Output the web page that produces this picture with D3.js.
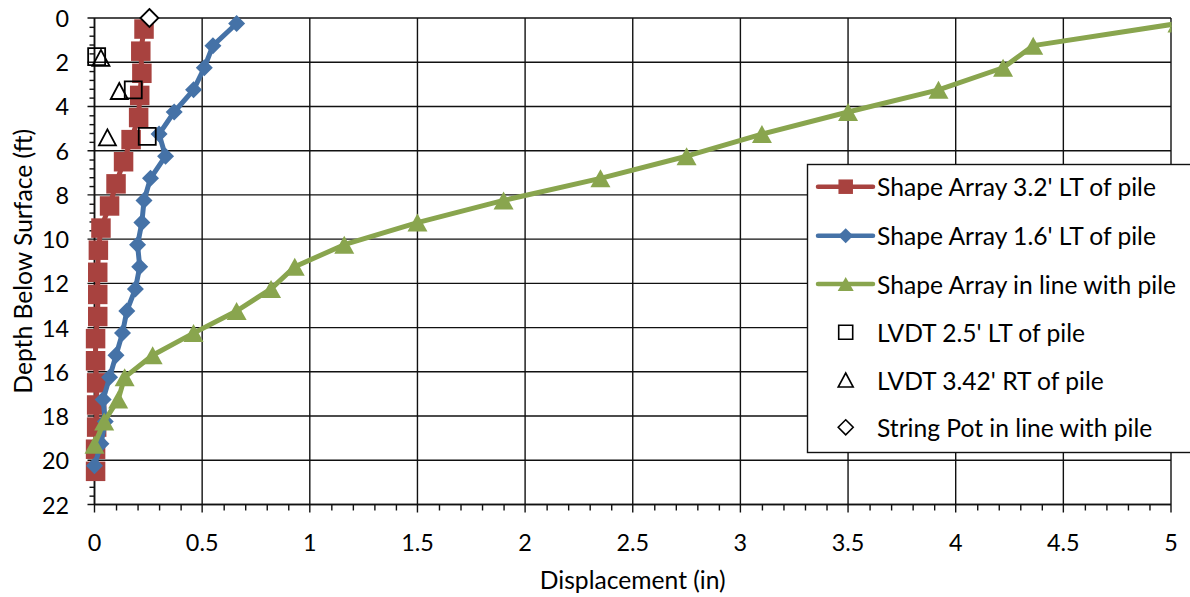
<!DOCTYPE html>
<html><head><meta charset="utf-8">
<script src="https://cdn.jsdelivr.net/npm/d3@7"></script>
<style>body{margin:0;background:#fff;} svg{display:block}</style>
</head><body>
<svg id="chart" width="1190" height="597"></svg>
<script>
// ---------- data ----------
const seriesNames = ["Shape Array 3.2' LT of pile", "Shape Array 1.6' LT of pile", "Shape Array in line with pile",
  "LVDT 2.5' LT of pile", "LVDT 3.42' RT of pile", "String Pot in line with pile"];

const redDepth = [0.5,1.5,2.5,3.5,4.5,5.5,6.5,7.5,8.5,9.5,10.5,11.5,12.5,13.5,14.5,15.5,16.5,17.5,18.5,19.5,20.5];
const redDisp  = [0.23,0.215,0.22,0.21,0.205,0.17,0.135,0.10,0.07,0.03,0.018,0.015,0.015,0.015,0.005,0.005,0.01,0.01,0.01,0.005,0.005];

const blueDepth = [0.25,1.25,2.25,3.25,4.25,5.25,6.25,7.25,8.25,9.25,10.25,11.25,12.25,13.25,14.25,15.25,16.25,17.25,18.25,19.25,20.25];
const blueDisp  = [0.66,0.55,0.51,0.46,0.37,0.30,0.33,0.26,0.23,0.22,0.20,0.21,0.19,0.15,0.13,0.10,0.07,0.04,0.05,0.03,0.00];

const greenDepth = [0.25,1.25,2.25,3.25,4.25,5.25,6.25,7.25,8.25,9.25,10.25,11.25,12.25,13.25,14.25,15.25,16.25,17.25,18.25,19.3];
const greenDisp  = [5.03,4.36,4.22,3.92,3.50,3.10,2.75,2.35,1.90,1.50,1.16,0.93,0.82,0.66,0.46,0.27,0.14,0.11,0.045,0.00];

const lvdtLDepth = [1.75,3.25,5.35];
const lvdtLDisp  = [0.01,0.18,0.245];
const lvdtRDepth = [1.8,3.3,5.4];
const lvdtRDisp  = [0.03,0.115,0.06];
const potDepth = [0];
const potDisp  = [0.255];

const xTickValues = [0,0.5,1,1.5,2,2.5,3,3.5,4,4.5,5];
const xTickLabels = ["0","0.5","1","1.5","2","2.5","3","3.5","4","4.5","5"];
const yTickValues = [0,2,4,6,8,10,12,14,16,18,20,22];
const yTickLabels = ["0","2","4","6","8","10","12","14","16","18","20","22"];
const xTitle = "Displacement (in)";
const yTitle = "Depth Below Surface (ft)";

// ---------- setup ----------
const svg = d3.select("#chart");
const FONT = "Lato, 'Open Sans', sans-serif";
const L = 94.5, R = 1171, T = 18, B = 504.5;
const x = d3.scaleLinear().domain([0,5]).range([L,R]);
const y = d3.scaleLinear().domain([0,22]).range([T,B]);

function fitSize(text, target){
  const t = svg.append("text").attr("font-family",FONT).attr("font-size",100).text(text);
  const w = t.node().getComputedTextLength(); t.remove();
  return 100*target/w;
}
const legendFs = fitSize(seriesNames[0], 279);
const titleFs = fitSize(xTitle, 186);
const tickFs = legendFs*0.95;

const colors = {red:"#A8423F", blue:"#4572A7", green:"#89A54E"};

// marker shapes (centered on bounding box)
const squarePath = s => `M${-s/2},${-s/2}H${s/2}V${s/2}H${-s/2}Z`;
const diamondPath = s => `M0,${-s/2}L${s/2},0L0,${s/2}L${-s/2},0Z`;
const trianglePath = (w,h) => `M0,${-h/2}L${w/2},${h/2}L${-w/2},${h/2}Z`;

// gridlines
const grid = svg.append("g").attr("stroke","#111").attr("stroke-width",1.4);
grid.selectAll("line.h").data(yTickValues).join("line").attr("class","h")
  .attr("x1",L-7).attr("x2",R).attr("y1",d=>y(d)).attr("y2",d=>y(d));
grid.selectAll("line.v").data(xTickValues).join("line").attr("class","v")
  .attr("x1",d=>x(d)).attr("x2",d=>x(d)).attr("y1",T).attr("y2",B+8);

// axes with minor ticks
const yMinor = d3.range(0,22.001,0.4).filter(v=>Math.abs(v/2-Math.round(v/2))>1e-6);
svg.append("g").attr("transform",`translate(${L},0)`)
  .call(d3.axisLeft(y).tickValues(yMinor).tickSize(5).tickFormat(""))
  .call(g=>g.select(".domain").remove())
  .call(g=>g.selectAll("line").attr("stroke","#111").attr("stroke-width",1.4));
const xMinor = d3.range(0,5.0001,0.1).filter(v=>Math.abs(v*2-Math.round(v*2))>1e-6);
svg.append("g").attr("transform",`translate(0,${B})`)
  .call(d3.axisBottom(x).tickValues(xMinor).tickSize(6).tickFormat(""))
  .call(g=>g.select(".domain").remove())
  .call(g=>g.selectAll("line").attr("stroke","#111").attr("stroke-width",1.4));

// axis lines
svg.append("line").attr("x1",L).attr("x2",L).attr("y1",T).attr("y2",B).attr("stroke","#111").attr("stroke-width",1.6);
svg.append("line").attr("x1",L).attr("x2",R).attr("y1",B).attr("y2",B).attr("stroke","#111").attr("stroke-width",1.6);

// tick labels
svg.append("g").selectAll("text").data(yTickValues).join("text")
  .attr("x",69).attr("y",d=>y(d)).attr("text-anchor","end").attr("dominant-baseline","central")
  .attr("font-family",FONT).attr("font-size",tickFs).attr("fill","#000")
  .text((d,i)=>yTickLabels[i]);
svg.append("g").selectAll("text").data(xTickValues).join("text")
  .attr("x",d=>x(d)).attr("y",542).attr("text-anchor","middle").attr("dominant-baseline","central")
  .attr("font-family",FONT).attr("font-size",tickFs).attr("fill","#000")
  .text((d,i)=>xTickLabels[i]);

// titles
svg.append("text").attr("x",(L+R)/2).attr("y",579).attr("text-anchor","middle").attr("dominant-baseline","central")
  .attr("font-family",FONT).attr("font-size",titleFs).text(xTitle);
svg.append("text").attr("transform",`translate(22,${(T+B)/2}) rotate(-90)`).attr("text-anchor","middle")
  .attr("dominant-baseline","central").attr("font-family",FONT).attr("font-size",titleFs).text(yTitle);

// clip on right side
svg.append("defs").append("clipPath").attr("id","clipR").append("rect")
  .attr("x",0).attr("y",0).attr("width",R+0.5).attr("height",597);
const plot = svg.append("g").attr("clip-path","url(#clipR)");

const line = d3.line().x(d=>x(d[1])).y(d=>y(d[0]));

function addSeries(depths, disps, color, shape, lw){
  const data = depths.map((d,i)=>[d,disps[i]]);
  plot.append("path").datum(data).attr("d",line).attr("fill","none").attr("stroke",color)
    .attr("stroke-width",lw).attr("stroke-linejoin","round");
  plot.append("g").selectAll("path").data(data).join("path")
    .attr("transform",d=>`translate(${x(d[1])},${y(d[0])})`)
    .attr("d",shape).attr("fill",color);
}
addSeries(redDepth, redDisp, colors.red, squarePath(19.5), 5);
addSeries(blueDepth, blueDisp, colors.blue, diamondPath(17), 5);
addSeries(greenDepth, greenDisp, colors.green, trianglePath(20,18), 5);

function addOpen(depths, disps, shape, fill){
  plot.append("g").selectAll("path").data(depths.map((d,i)=>[d,disps[i]])).join("path")
    .attr("transform",d=>`translate(${x(d[1])},${y(d[0])})`)
    .attr("d",shape).attr("fill",fill).attr("stroke","#000").attr("stroke-width",1.8);
}
addOpen(lvdtLDepth, lvdtLDisp, squarePath(17), "none");
addOpen(lvdtRDepth, lvdtRDisp, trianglePath(17,16), "none");
addOpen(potDepth, potDisp, diamondPath(18), "#fff");

// legend
const lg = svg.append("g");
lg.append("rect").attr("x",807.5).attr("y",164.5).attr("width",400).attr("height",288)
  .attr("fill","#fff").attr("stroke","#111").attr("stroke-width",1.4);
const legY = [186.7,235.7,284,332.3,380,427.3];
const legSpec = [
  {c:colors.red, shape:squarePath(14.5), line:true},
  {c:colors.blue, shape:diamondPath(15), line:true},
  {c:colors.green, shape:trianglePath(16,14), line:true},
  {c:"none", shape:squarePath(14), line:false},
  {c:"none", shape:trianglePath(15,14), line:false},
  {c:"#fff", shape:diamondPath(15), line:false}
];
legSpec.forEach((sp,i)=>{
  const yy = legY[i];
  if(sp.line){
    lg.append("line").attr("x1",818).attr("x2",873).attr("y1",yy).attr("y2",yy)
      .attr("stroke",sp.c).attr("stroke-width",4.5).attr("stroke-linecap","round");
    lg.append("path").attr("transform",`translate(845.7,${yy})`).attr("d",sp.shape).attr("fill",sp.c);
  } else {
    lg.append("path").attr("transform",`translate(845.7,${yy})`).attr("d",sp.shape)
      .attr("fill",sp.c).attr("stroke","#000").attr("stroke-width",1.6);
  }
  lg.append("text").attr("x",877).attr("y",yy).attr("dominant-baseline","central")
    .attr("font-family",FONT).attr("font-size",legendFs).attr("fill","#000").text(seriesNames[i]);
});
</script>
</body></html>
